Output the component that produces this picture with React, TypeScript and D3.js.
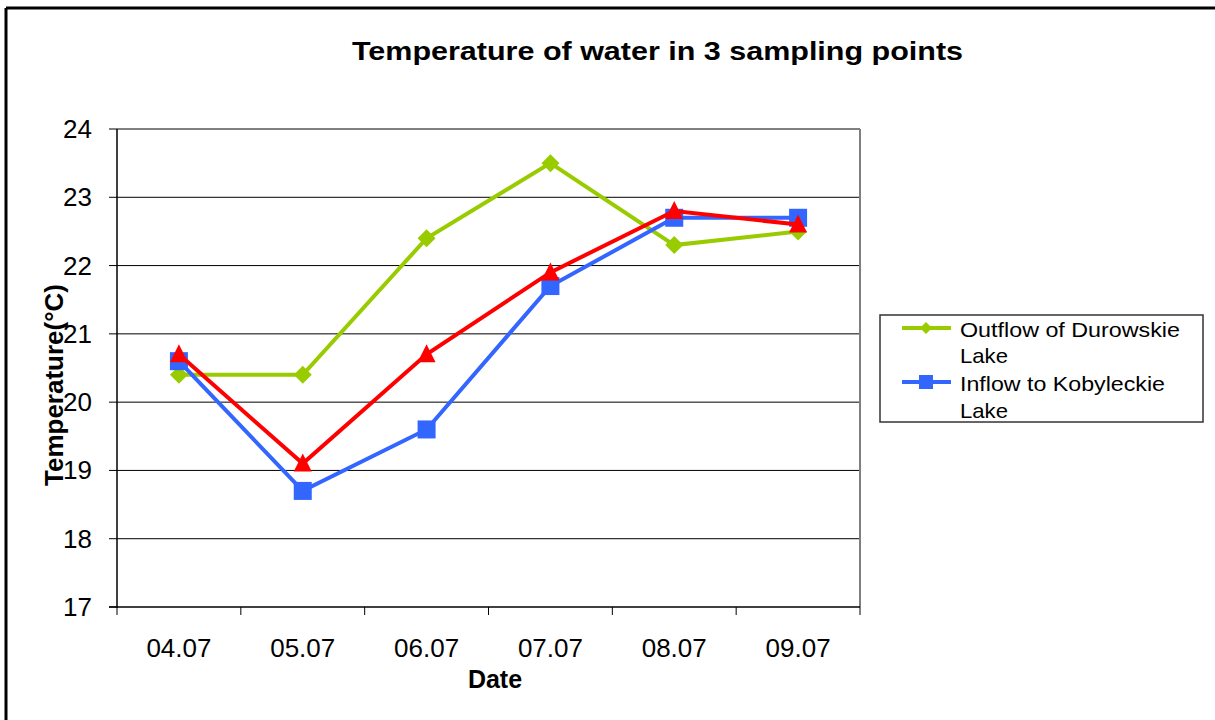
import React from "react";
import * as d3 from "d3";

const categories = ["04.07", "05.07", "06.07", "07.07", "08.07", "09.07"];
const outflowDurowskie = [20.4, 20.4, 22.4, 23.5, 22.3, 22.5];
const inflowKobyleckie = [20.6, 18.7, 19.6, 21.7, 22.7, 22.7];
const thirdPoint = [20.7, 19.1, 20.7, 21.9, 22.8, 22.6];
const yTicks = [17, 18, 19, 20, 21, 22, 23, 24];

const W = 1215, H = 720;
const L = 117, R = 860, T = 129, B = 607;
const font = "'Liberation Sans', Arial, sans-serif";

export default function App() {
  const x = d3.scaleBand<string>().domain(categories).range([L, R]);
  const y = d3.scaleLinear().domain([17, 24]).range([B, T]);
  const cx = (c: string) => (x(c) as number) + x.bandwidth() / 2;
  const line = d3.line<number>().x((_, i) => cx(categories[i])).y((v) => y(v));

  const diamond = (px: number, py: number, s: number, color: string, key: any) => (
    <path key={key} d={`M${px},${py - s}L${px + s},${py}L${px},${py + s}L${px - s},${py}Z`} fill={color} />
  );
  const square = (px: number, py: number, s: number, color: string, key: any) => (
    <rect key={key} x={px - s} y={py - s} width={2 * s} height={2 * s} fill={color} />
  );
  const tri = (px: number, py: number, s: number, color: string, key: any) => (
    <path key={key} d={`M${px},${py - s - 2}L${px + s + 1},${py + s}L${px - s - 1},${py + s}Z`} fill={color} />
  );

  return (
    <svg width={W} height={H} style={{ position: "absolute", left: 0, top: 0, background: "#fff" }}>
      <rect x={0} y={0} width={W} height={H} fill="#fff" />
      <line x1={6} y1={8} x2={W} y2={8} stroke="#000" strokeWidth={3} />
      <line x1={6} y1={8} x2={6} y2={H} stroke="#000" strokeWidth={3} />
      <text x={352} y={60} fontFamily={font} fontWeight="bold" fontSize={25} textLength={611} lengthAdjust="spacingAndGlyphs">
        Temperature of water in 3 sampling points
      </text>
      {yTicks.map((t) => (
        <g key={t}>
          {t > 17 && t < 24 && <line x1={L} x2={R} y1={y(t)} y2={y(t)} stroke="#000" strokeWidth={1} />}
          <line x1={L - 8} x2={L} y1={y(t)} y2={y(t)} stroke="#000" strokeWidth={1} />
          <text x={92} y={y(t) + 9} textAnchor="end" fontFamily={font} fontSize={26}>{t}</text>
        </g>
      ))}
      <line x1={L} x2={R} y1={T} y2={T} stroke="#808080" strokeWidth={2} />
      <line x1={R} x2={R} y1={T} y2={B} stroke="#808080" strokeWidth={2} />
      <line x1={L} x2={L} y1={T} y2={B + 1} stroke="#000" strokeWidth={1.5} />
      <line x1={L - 8} x2={R} y1={B} y2={B} stroke="#000" strokeWidth={1.5} />
      {categories.map((c, i) => (
        <g key={c}>
          <line x1={(x(c) as number)} x2={(x(c) as number)} y1={B} y2={B + 8} stroke="#000" strokeWidth={1} />
          {i === categories.length - 1 && (
            <line x1={R} x2={R} y1={B} y2={B + 8} stroke="#000" strokeWidth={1} />
          )}
          <text x={cx(c)} y={657} textAnchor="middle" fontFamily={font} fontSize={26}>{c}</text>
        </g>
      ))}
      <text x={495} y={688} textAnchor="middle" fontFamily={font} fontWeight="bold" fontSize={25}>Date</text>
      <text transform={`translate(63,385) rotate(-90)`} textAnchor="middle" fontFamily={font} fontWeight="bold" fontSize={26}>
        Temperature(°C)
      </text>

      <path d={line(outflowDurowskie) as string} fill="none" stroke="#99CC00" strokeWidth={4} />
      {outflowDurowskie.map((v, i) => diamond(cx(categories[i]), y(v), 9, "#99CC00", "g" + i))}
      <path d={line(inflowKobyleckie) as string} fill="none" stroke="#3366FF" strokeWidth={4} />
      {inflowKobyleckie.map((v, i) => square(cx(categories[i]), y(v), 9, "#3366FF", "b" + i))}
      <path d={line(thirdPoint) as string} fill="none" stroke="#FF0000" strokeWidth={4} />
      {thirdPoint.map((v, i) => tri(cx(categories[i]), y(v), 8, "#FF0000", "r" + i))}

      <rect x={880} y={315} width={323} height={107} fill="#fff" stroke="#333" strokeWidth={1.5} />
      <line x1={902} x2={951} y1={328} y2={328} stroke="#99CC00" strokeWidth={4} />
      {diamond(926, 328, 6, "#99CC00", "lg")}
      <text x={960} y={337} fontFamily={font} fontSize={21} textLength={220} lengthAdjust="spacingAndGlyphs">Outflow of Durowskie</text>
      <text x={960} y={363} fontFamily={font} fontSize={21} textLength={48} lengthAdjust="spacingAndGlyphs">Lake</text>
      <line x1={902} x2={951} y1={382} y2={382} stroke="#3366FF" strokeWidth={4} />
      {square(926, 382, 7, "#3366FF", "lb")}
      <text x={960} y={391} fontFamily={font} fontSize={21} textLength={205} lengthAdjust="spacingAndGlyphs">Inflow to Kobyleckie</text>
      <text x={960} y={418} fontFamily={font} fontSize={21} textLength={48} lengthAdjust="spacingAndGlyphs">Lake</text>
    </svg>
  );
}
